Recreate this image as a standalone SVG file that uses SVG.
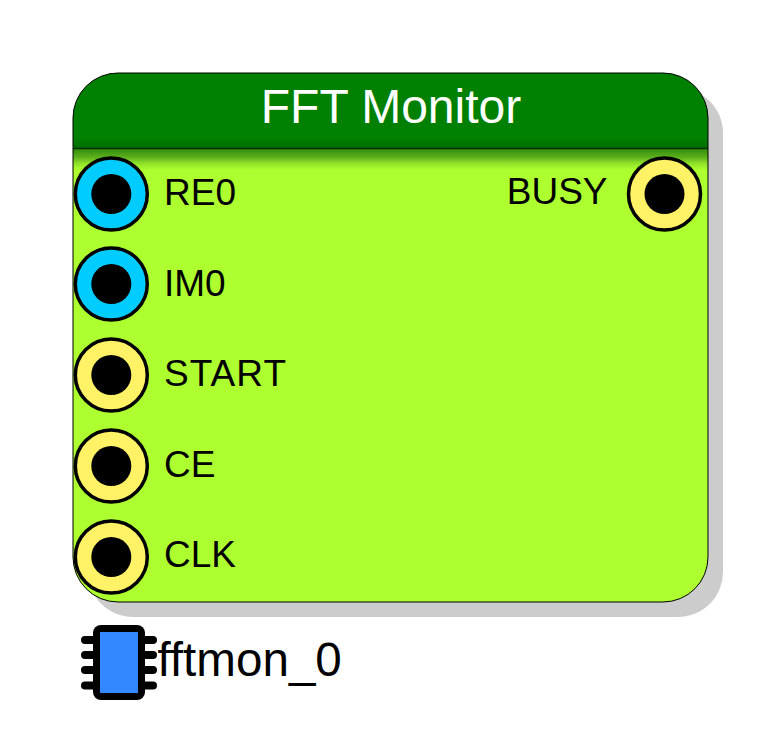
<svg xmlns="http://www.w3.org/2000/svg" width="782" height="731" viewBox="0 0 782 731">
<defs>
<linearGradient id="hdr" gradientUnits="userSpaceOnUse" x1="0" y1="73" x2="0" y2="170">
<stop offset="0" stop-color="#008000"/>
<stop offset="0.66" stop-color="#008000"/>
<stop offset="0.77" stop-color="#006f00"/>
<stop offset="0.78" stop-color="#2f8c0c"/>
<stop offset="0.87" stop-color="#5cb01c"/>
<stop offset="0.93" stop-color="#8fe028"/>
<stop offset="1" stop-color="#adff2f"/>
</linearGradient>
</defs>
<style>
text{font-family:"Liberation Sans",Arial,sans-serif;fill:#000}
.lbl{font-size:37px}
.outer{stroke:#000;stroke-width:3.5}
.in{fill:#00ccff}
.ctl{fill:#fff266}
.hole{fill:#000}
.pin{stroke:#000;stroke-width:8;stroke-linecap:round;fill:none}
</style>
<g id="fftmon_0">
<rect x="88" y="88" width="635" height="529" rx="45" ry="45" fill="#cccccc"/>
<rect x="73" y="73" width="635" height="529" rx="45" ry="45" fill="url(#hdr)" stroke="#000" stroke-width="1"/>
<line x1="73" y1="148.500" x2="708" y2="148.500" stroke="#003000" stroke-width="1.500"/>
<text x="391" y="123" font-size="48" text-anchor="middle" style="fill:#fff">FFT Monitor</text>
</g>
<g id="port_RE0"><circle class="outer in" cx="111.300" cy="194" r="36"/><circle class="hole" cx="111.300" cy="194" r="20"/><text class="lbl" x="164" y="205" textLength="72">RE0</text></g>
<g id="port_IM0"><circle class="outer in" cx="111.300" cy="284" r="36"/><circle class="hole" cx="111.300" cy="284" r="20"/><text class="lbl" x="164" y="296">IM0</text></g>
<g id="port_START"><circle class="outer ctl" cx="111.300" cy="375" r="36"/><circle class="hole" cx="111.300" cy="375" r="20"/><text class="lbl" x="164" y="386" textLength="122">START</text></g>
<g id="port_CE"><circle class="outer ctl" cx="111.300" cy="466" r="36"/><circle class="hole" cx="111.300" cy="466" r="20"/><text class="lbl" x="164" y="477">CE</text></g>
<g id="port_CLK"><circle class="outer ctl" cx="111.300" cy="557" r="36"/><circle class="hole" cx="111.300" cy="557" r="20"/><text class="lbl" x="164" y="567">CLK</text></g>
<g id="port_BUSY"><circle class="outer ctl" cx="664.500" cy="194" r="36"/><circle class="hole" cx="664.500" cy="194" r="20"/><text class="lbl" x="607.500" y="204" text-anchor="end">BUSY</text></g>
<g id="chip">
<path class="pin" d="M85 640H93M85 655H93M85 670H93M85 685.500H93M145 640H153M145 655H153M145 670H153M145 685.500H153"/>
<rect x="93" y="625" width="52" height="75" rx="8" ry="8" fill="#000"/>
<rect x="100" y="632" width="38" height="61" fill="#3388ff"/>
</g>
<text id="instance" x="157.500" y="676" font-size="47.600">fftmon_0</text>
<g id="connectors"/>
</svg>
